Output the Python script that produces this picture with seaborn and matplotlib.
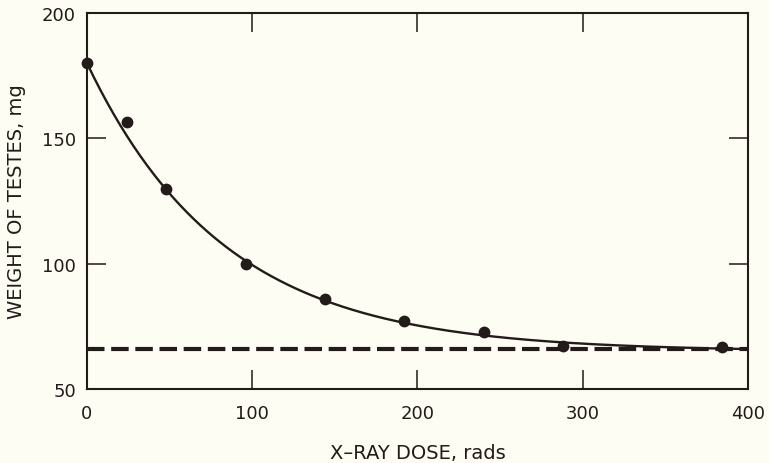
import numpy as np
import pandas as pd
import matplotlib
matplotlib.use("Agg")
import matplotlib.pyplot as plt
import seaborn as sns

# Data
dose_rads = [0, 24, 48, 96, 144, 192, 240, 288, 384]
testes_weight_mg = [180.2, 156.6, 129.9, 100.0, 86.1, 77.3, 72.6, 67.3, 66.9]
control_level_mg = 66.0
# fitted exponential decay curve drawn through the points
curve_asymptote = 65.0
curve_amplitude = 115.0
curve_decay_rads = 83.0

x_ticks = [0, 100, 200, 300, 400]
y_ticks = [50, 100, 150, 200]

INK = "#231a1a"
BG = "#fdfdf4"

sns.set_theme(style="ticks")
plt.rcParams["font.family"] = ["DejaVu Sans"]

fig = plt.figure(figsize=(7.69, 4.64), dpi=100, facecolor=BG)
ax = fig.add_axes([0.1131, 0.1595, 0.8596, 0.8103])
ax.set_facecolor(BG)

df = pd.DataFrame({"dose": dose_rads, "weight": testes_weight_mg})

xs = np.linspace(0, 400, 400)
curve = pd.DataFrame({"dose": xs,
                      "weight": curve_asymptote + curve_amplitude * np.exp(-xs / curve_decay_rads)})

# dashed control level
ax.plot([0, 400], [control_level_mg, control_level_mg], color=INK, lw=3.0,
        dashes=(4.2, 1.6), solid_capstyle="butt", dash_capstyle="butt", zorder=2)

sns.lineplot(data=curve, x="dose", y="weight", color=INK, lw=1.7, ax=ax, zorder=3)
sns.scatterplot(data=df, x="dose", y="weight", color=INK, s=72, edgecolor=INK,
                linewidth=0, ax=ax, zorder=4, clip_on=False)

ax.set_xlim(0, 400)
ax.set_ylim(50, 200)
ax.set_xticks(x_ticks)
ax.set_yticks(y_ticks)
ax.set_xticklabels([str(v) for v in x_ticks])
ax.set_yticklabels([str(v) for v in y_ticks])

for s in ax.spines.values():
    s.set_visible(True)
    s.set_color(INK)
    s.set_linewidth(1.5)

ax.tick_params(axis="both", direction="in", length=14, width=1.1, color=INK,
               labelsize=13, labelcolor=INK, top=True, right=True)
ax.tick_params(axis="x", pad=11)
ax.tick_params(axis="y", pad=8)

ax.set_xlabel("X\u2013RAY DOSE, rads", fontsize=14, color=INK, labelpad=15)
ax.set_ylabel("WEIGHT OF TESTES, mg", fontsize=14, color=INK, labelpad=11)

fig.savefig("out.png", dpi=100, facecolor=BG)
